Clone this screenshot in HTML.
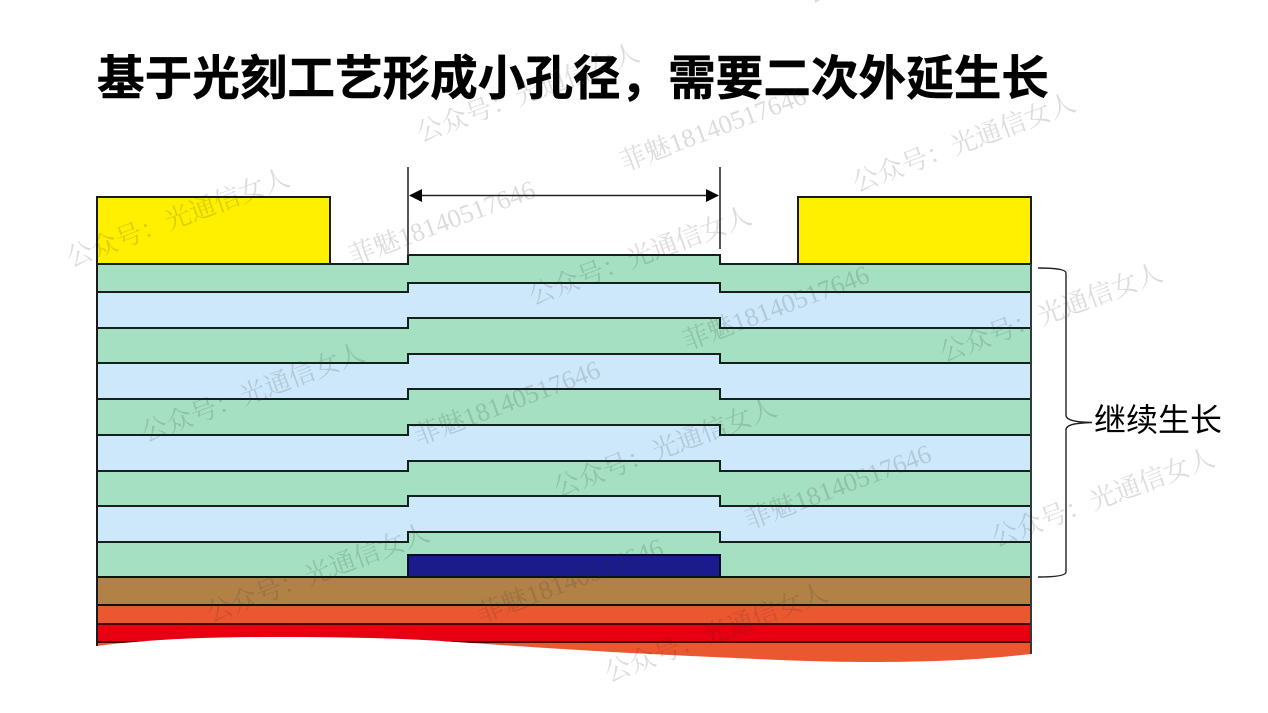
<!DOCTYPE html>
<html lang="zh">
<head>
<meta charset="utf-8">
<style>
html,body{margin:0;padding:0;background:#fff}
body{width:1268px;height:713px;overflow:hidden}
svg{display:block;filter:blur(.35px)}
.t{font-family:"Liberation Sans","Noto Sans CJK SC",sans-serif}
.wm{font-family:"Liberation Serif","Noto Serif CJK SC",serif;font-size:26.2px;fill:#2e2e2e;fill-opacity:.17;text-anchor:middle}
</style>
</head>
<body>
<svg width="1268" height="713" viewBox="0 0 1268 713" xmlns="http://www.w3.org/2000/svg">
<defs>
<clipPath id="wave"><path d="M90 0H1040V654H1031C980 660 930 662 867 662C810 662 760 659 702 656.500C620 653 530 647 457 642C400 638 340 637 274 637C210 637 150 639 97 646H90Z"/></clipPath>
</defs>
<text class="t" x="97" y="95" font-size="47.6" font-weight="700" fill="#000" stroke="#000" stroke-width=".5">基于光刻工艺形成小孔径，需要二次外延生长</text>

<g stroke="#1a1a1a" stroke-width="2">
<rect x="97" y="197" width="233" height="67" fill="#fff000"/>
<rect x="798" y="197" width="233" height="67" fill="#fff000"/>
</g>

<g clip-path="url(#wave)">
<rect x="97" y="642" width="934" height="25" fill="#ea5831"/>
<rect x="97" y="624" width="934" height="18" fill="#e60012"/>
<rect x="97" y="605" width="934" height="19" fill="#ea5831"/>
<rect x="97" y="577" width="934" height="28" fill="#b28146"/>
<path d="M97 264H408V255H720V264H1031V577H97Z" fill="#a4e0c1"/>
<path d="M97 292H408V283H720V292H1031V328H720V318H408V328H97Z" fill="#cde8fa"/>
<path d="M97 363H408V354H720V363H1031V399H720V389H408V399H97Z" fill="#cde8fa"/>
<path d="M97 435H408V425H720V435H1031V471H720V461H408V471H97Z" fill="#cde8fa"/>
<path d="M97 506H408V496H720V506H1031V542H720V532H408V542H97Z" fill="#cde8fa"/>
<rect x="408" y="555" width="312" height="22" fill="#1b1b8c"/>
<g fill="none" stroke="#14201c" stroke-width="2">
<path d="M330 264H408V255H720V264H798"/>
<path d="M97 264H330M798 264H1031"/>
<path d="M97 292H408V283H720V292H1031"/>
<path d="M97 328H408V318H720V328H1031"/>
<path d="M97 363H408V354H720V363H1031"/>
<path d="M97 399H408V389H720V399H1031"/>
<path d="M97 435H408V425H720V435H1031"/>
<path d="M97 471H408V461H720V471H1031"/>
<path d="M97 506H408V496H720V506H1031"/>
<path d="M97 542H408V532H720V542H1031"/>
<path d="M408 577V555H720V577" stroke="#0a0a2a"/>
<path d="M97 577H1031" stroke="#111"/>
<path d="M97 605H1031" stroke="#111"/>
<path d="M97 624H1031" stroke="#4a0508"/>
<path d="M97 642H1031" stroke="#4a0508"/>
</g>
<path d="M97 264V660" stroke="#1a1a1a" stroke-width="2"/>
<path d="M1031 264V660" stroke="#333b38" stroke-width="2"/>
</g>

<g stroke="#444" stroke-width="1.8" fill="none">
<path d="M408 167V255"/>
<path d="M720 167V249"/>
</g>
<path d="M420 195.500H708" stroke="#222" stroke-width="1.5"/>
<path d="M409 195.500L422 189V202Z" fill="#000"/>
<path d="M719 195.500L706 189V202Z" fill="#000"/>

<path d="M1038 268C1052 268 1066 269 1066 273V415C1066 420 1074 422 1092 422.500C1074 423 1066 425 1066 430V572C1066 576 1052 577 1038 577" fill="none" stroke="#222" stroke-width="1.4"/>
<text class="t" x="1094" y="431" font-size="32" fill="#000">继续生长</text>

<g>
<text class="wm" transform="translate(181,226) rotate(-20.500)">公众号：光通信女人</text>
<text class="wm" transform="translate(531,101) rotate(-20.500)">公众号：光通信女人</text>
<text class="wm" transform="translate(967,151) rotate(-20.500)">公众号：光通信女人</text>
<text class="wm" transform="translate(643,264) rotate(-20.500)">公众号：光通信女人</text>
<text class="wm" transform="translate(1054,321) rotate(-20.500)">公众号：光通信女人</text>
<text class="wm" transform="translate(256,401) rotate(-20.500)">公众号：光通信女人</text>
<text class="wm" transform="translate(668,456) rotate(-20.500)">公众号：光通信女人</text>
<text class="wm" transform="translate(1106,506) rotate(-20.500)">公众号：光通信女人</text>
<text class="wm" transform="translate(321,581) rotate(-20.500)">公众号：光通信女人</text>
<text class="wm" transform="translate(719,641) rotate(-20.500)">公众号：光通信女人</text>
<text class="wm" transform="translate(921,-38) rotate(-20.500)">公众号：光通信女人</text>
<text class="wm" transform="translate(716,137) rotate(-20.500)">菲魅18140517646</text>
<text class="wm" transform="translate(445,231) rotate(-20.500)">菲魅18140517646</text>
<text class="wm" transform="translate(779,316) rotate(-20.500)">菲魅18140517646</text>
<text class="wm" transform="translate(510,411) rotate(-20.500)">菲魅18140517646</text>
<text class="wm" transform="translate(841,495) rotate(-20.500)">菲魅18140517646</text>
<text class="wm" transform="translate(573,589) rotate(-20.500)">菲魅18140517646</text>
</g>
</svg>
</body>
</html>
